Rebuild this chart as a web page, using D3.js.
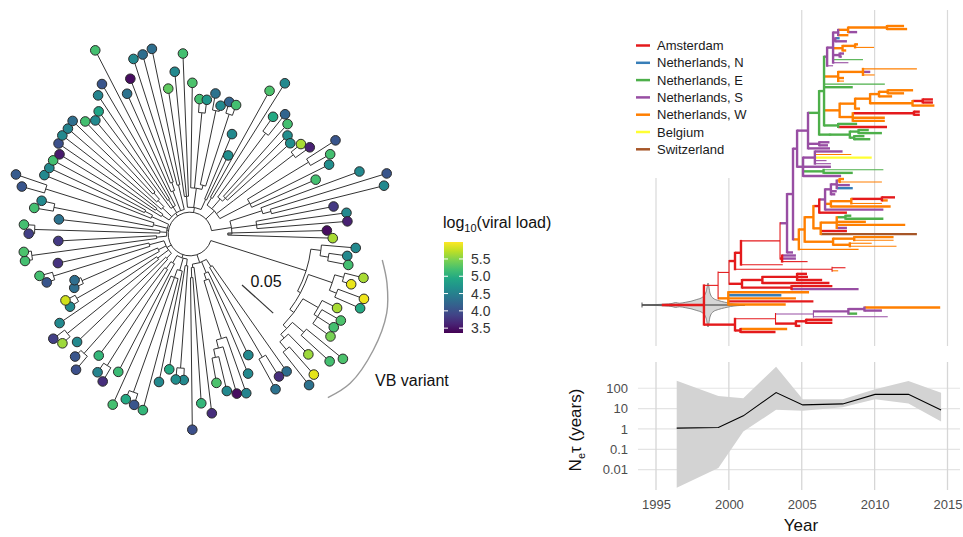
<!DOCTYPE html>
<html>
<head>
<meta charset="utf-8">
<script src="https://cdn.jsdelivr.net/npm/d3@7"></script>
<style>
  body { margin: 0; background: #fff; }
  svg { font-family: "Liberation Sans", Arial, sans-serif; }
</style>
</head>
<body>
<svg id="chart" width="963" height="537"></svg>
<script>
// ---- data: circular tree (divergence, subs/site) ----
var circNodes = [
  ["R", null, 0.026],
  ["vb", "R", 0.145], ["vbA", "vb", 0.157], ["vbA1", "vbA", 0.167], ["vbB", "vb", 0.149],
  ["vbB1", "vbB", 0.179], ["vbB1a", "vbB1", 0.190], ["vbB1b", "vbB1", 0.188], ["vbB2", "vbB", 0.155],
  ["vbB2a", "vbB2", 0.176], ["vbB2a1", "vbB2a", 0.181], ["vbB2b", "vbB2", 0.161], ["vbB2b1", "vbB2b", 0.179],
  ["vbB2b2", "vbB2b", 0.167], ["vbB2b3", "vbB2b2", 0.179],
  ["g1", "R", 0.036], ["g1a", "g1", 0.046], ["g1a1", "g1a", 0.170], ["g1b", "g1", 0.050], ["g1b1", "g1b", 0.058],
  ["g1c", "g1b1", 0.130], ["g1c1", "g1c", 0.140], ["g1c2", "g1c1", 0.150], ["g1d", "g1", 0.040], ["g1d1", "g1d", 0.052],
  ["g2", "R", 0.030], ["g2a", "g2", 0.038], ["g2a1", "g2a", 0.160], ["g2b", "g2", 0.045], ["g2b1", "g2b", 0.055],
  ["g2b2", "g2b1", 0.200], ["g2c", "g2", 0.040], ["g2c1", "g2c", 0.050], ["g2c2", "g2c1", 0.185],
  ["g3", "R", 0.032], ["g3a", "g3", 0.040], ["g3a1", "g3a", 0.190], ["g3b", "g3", 0.048], ["g3b1", "g3b", 0.188],
  ["g3c", "g3", 0.042], ["g3c1", "g3c", 0.155], ["g3c2", "g3c", 0.140], ["g3d", "g3", 0.050], ["g3d1", "g3d", 0.170],
  ["g4", "R", 0.028], ["g4a", "g4", 0.040], ["g4a1", "g4a", 0.190], ["g4b", "g4", 0.036], ["g4b1", "g4b", 0.185],
  ["g4c", "g4", 0.045], ["g4c1", "g4c", 0.165], ["g4c2", "g4c", 0.180], ["g4d", "g4", 0.050], ["g4d1", "g4d", 0.060],
  ["g5", "R", 0.030], ["g5a", "g5", 0.040], ["g5a1", "g5a", 0.050], ["g5b", "g5", 0.045], ["g5b1", "g5b", 0.055],
  ["g5b2", "g5b1", 0.065], ["g5c", "g5", 0.038], ["g5c1", "g5c", 0.048], ["g5d", "g5", 0.055], ["g5d1", "g5d", 0.065],
  ["g5e", "g5", 0.050], ["g5e1", "g5e", 0.060],
  ["g6", "R", 0.032], ["g6a", "g6", 0.045], ["g6b", "g6", 0.055], ["g6b1", "g6b", 0.145], ["g6b2", "g6b", 0.060],
  ["g6b3", "g6b2", 0.150], ["g6b4", "g6b2", 0.150], ["g6c", "g6", 0.045],
  ["g7", "R", 0.040], ["g7a", "g7", 0.050], ["g7b", "g7", 0.055], ["g7b1", "g7b", 0.150], ["g7b2", "g7b", 0.060],
  ["g7c", "g7", 0.065], ["g7c1", "g7c", 0.155], ["g7d", "g7", 0.080], ["g7d1", "g7d", 0.165],
  ["g8", "R", 0.050], ["g8a", "g8", 0.090], ["g8a1", "g8a", 0.100], ["g8b", "g8", 0.080], ["g8c", "g8", 0.045]
];

var circTipParent = [
  "vbA","vbA1","vbA1","vbB1a","vbB1a","vbB1b","vbB1b","vbB2a","vbB2a1","vbB2a1","vbB2a1","vbB2b1","vbB2b1","vbB2b2","vbB2b3","vbB2b3",
  "g1a","g1a1","g1a1","g1b","g1b1","g1c","g1c1","g1c2","g1c2","g1d","g1d1","g1d1",
  "g2a1","g2a1","g2a","g2b","g2b1","g2b2","g2b2","g2b1","g2c","g2c2","g2c2","g2c1",
  "g3a1","g3a1","g3a","g3b1","g3b1","g3b","g3c1","g3c1","g3c2","g3c2","g3d1","g3d1","g3d",
  "g4a1","g4a1","g4a","g4b1","g4b1","g4b","g4c1","g4c1","g4c2","g4c2","g4d","g4d1","g4d1",
  "g5a","g5a1","g5a1","g5b","g5b1","g5b2","g5b2","g5c","g5c1","g5c1","g5c","g5d","g5d1","g5d1","g5e1","g5e1",
  "g6a","g6a","g6a","g6b","g6b1","g6b1","g6b3","g6b3","g6b4","g6b4","g6c","g6c",
  "g7a","g7a","g7b1","g7b1","g7b2","g7b2","g7b2","g7c1","g7c1","g7d1","g7d1","g7d","g7d",
  "g8a","g8a1","g8a1","g8b","g8b","g8b","g8c","g8c"
];

var circTipDiv = [
  0.198,0.189,0.192,0.213,0.201,0.221,0.221,0.196,0.207,0.204,0.207,0.235,0.225,0.201,0.223,0.229,
  0.200,0.200,0.211,0.160,0.180,0.201,0.198,0.192,0.180,0.215,0.202,0.233,
  0.174,0.174,0.163,0.180,0.217,0.214,0.211,0.223,0.185,0.204,0.198,0.181,
  0.211,0.200,0.186,0.200,0.205,0.188,0.167,0.168,0.152,0.148,0.180,0.186,0.161,
  0.199,0.199,0.157,0.192,0.198,0.157,0.188,0.181,0.208,0.219,0.187,0.185,0.185,
  0.182,0.190,0.192,0.192,0.194,0.183,0.176,0.182,0.198,0.207,0.246,0.183,0.198,0.219,0.221,0.225,
  0.175,0.194,0.215,0.180,0.161,0.161,0.170,0.157,0.164,0.163,0.129,0.104,
  0.195,0.212,0.171,0.182,0.175,0.165,0.161,0.170,0.176,0.206,0.192,0.185,0.163,
  0.215,0.245,0.238,0.174,0.188,0.188,0.163,0.170
];

// log10 viral load per tip
var circTipLoad = [
  4.6,4.6,5.2,5.65,5.9,5.92,4.95,5.65,5.25,5.2,5.45,5.25,5.2,5.6,5.88,4.35,
  4.3,3.7,4.35,4.6,4.6,4.55,3.45,4.6,5.25,3.7,5.1,4.0,
  4.6,4.65,4.95,4.6,5.1,4.05,4.95,5.2,5.15,3.7,4.55,5.1,
  4.0,4.05,4.6,5.6,3.85,4.6,4.6,5.8,4.3,4.3,4.05,5.2,3.75,
  5.2,5.25,3.8,3.85,5.2,4.35,5.2,4.6,4.05,4.1,4.6,4.6,5.2,
  3.55,4.0,4.6,4.55,4.3,5.2,4.6,4.9,4.55,4.05,5.2,4.35,3.45,4.6,4.3,4.3,
  5.35,4.6,5.2,5.25,5.2,4.75,4.35,4.6,4.2,5.2,4.6,4.65,
  5.25,4.6,4.95,4.2,5.2,4.65,4.65,5.65,3.6,4.05,5.2,4.65,5.2,
  4.6,4.05,4.6,3.8,4.6,3.6,3.45,5.65
];
var loadTicks = [3.5, 4.0, 4.5, 5.0, 5.5];

// ---- data: time-scaled tree [id, parent, year, location] ----
var ttNodes = [
  ["R", null, 1998.29, "A"],
  ["A", "R", 1999.26, "A"],
  ["A1", "A", 2000.01, "A"],
  ["A2", "A1", 2000.42, "A"],
  ["A3", "A2", 2000.83, "A"],
  ["A4", "A3", 2003.51, "A"],
  ["S1", "A4", 2003.99, "S"],
  ["S2", "S1", 2004.40, "S"],
  ["P", "S2", 2004.68, "S"],
  ["P1", "P", 2005.43, "S"],
  ["E1", "P1", 2006.19, "E"],
  ["E2", "E1", 2006.53, "E"],
  ["S3", "E2", 2006.74, "S"],
  ["S4", "S3", 2007.15, "S"],
  ["S5", "S4", 2007.5, "S"],
  ["W1", "S5", 2008.18, "W"],
  ["W2", "W1", 2010.85, "W"],
  ["a1", "W2", 2012.02, "W"],
  ["a2", "W2", 2012.23, "W"],
  ["a3", "W1", 2008.8, "S"],
  ["a4", "S5", 2008.2, "W"],
  ["S6", "S4", 2007.3, "S"],
  ["a5", "S6", 2007.6, "N"],
  ["a6", "S6", 2008.1, "S"],
  ["W3", "S4", 2007.8, "W"],
  ["W4", "W3", 2008.66, "W"],
  ["a7", "W4", 2008.86, "W"],
  ["a8", "W4", 2009.96, "W"],
  ["a9", "W3", 2008.05, "W"],
  ["S7", "S4", 2007.6, "S"],
  ["a10", "S7", 2007.9, "S"],
  ["a11", "S7", 2007.75, "S"],
  ["a12", "S4", 2009.2, "E"],
  ["a13", "S4", 2008.2, "S"],
  ["a14", "S3", 2007.15, "S"],
  ["W5", "E2", 2007.5, "W"],
  ["W6", "W5", 2009.2, "W"],
  ["a15", "W6", 2012.9, "W"],
  ["a16", "W6", 2009.7, "S"],
  ["a17", "W6", 2010.0, "W"],
  ["a18", "W5", 2007.9, "W"],
  ["a19", "W5", 2007.9, "W"],
  ["a20", "E2", 2010.7, "E"],
  ["a21", "E2", 2008.5, "E"],
  ["W8", "E2", 2007.6, "W"],
  ["W9", "W8", 2008.66, "W"],
  ["W10", "W9", 2009.69, "W"],
  ["W11", "W10", 2010.3, "W"],
  ["W12", "W11", 2010.9, "W"],
  ["a22", "W12", 2012.64, "W"],
  ["a23", "W12", 2012.02, "W"],
  ["a24", "W11", 2011.2, "W"],
  ["W13", "W10", 2012.6, "W"],
  ["A14", "W13", 2013.3, "A"],
  ["a25", "A14", 2014.0, "A"],
  ["a26", "A14", 2014.0, "A"],
  ["a27", "W13", 2014.1, "W"],
  ["a28", "W9", 2009.0, "W"],
  ["W14", "W8", 2008.5, "W"],
  ["A15", "W14", 2012.7, "A"],
  ["a29", "A15", 2013.1, "A"],
  ["a30", "A15", 2013.1, "A"],
  ["a31", "W14", 2010.7, "W"],
  ["a32", "W14", 2010.7, "W"],
  ["E4", "E2", 2007.5, "E"],
  ["a33", "E4", 2008.8, "E"],
  ["a34", "E4", 2010.85, "A"],
  ["E5", "E1", 2006.94, "E"],
  ["E6", "E5", 2008.3, "E"],
  ["E7", "E6", 2008.9, "E"],
  ["a35", "E7", 2009.6, "E"],
  ["a36", "E7", 2010.5, "E"],
  ["E8", "E6", 2008.6, "E"],
  ["a37", "E8", 2009.3, "E"],
  ["a38", "E8", 2009.7, "E"],
  ["S9", "P1", 2006.2, "S"],
  ["a39", "S9", 2006.9, "S"],
  ["a40", "S9", 2006.8, "S"],
  ["a41", "P1", 2006.94, "S"],
  ["P2", "P", 2005.09, "S"],
  ["S10", "P2", 2005.9, "S"],
  ["a42", "S10", 2007.8, "S"],
  ["a43", "S10", 2008.4, "W"],
  ["a44", "S10", 2009.8, "B"],
  ["a45", "S10", 2006.7, "S"],
  ["a46", "S10", 2007.0, "S"],
  ["a47", "P2", 2007.0, "S"],
  ["E9", "P2", 2006.5, "E"],
  ["a48", "E9", 2010.6, "E"],
  ["a49", "E9", 2008.5, "E"],
  ["a50", "P2", 2007.7, "S"],
  ["O", "S2", 2004.8, "W"],
  ["O1", "O", 2005.2, "W"],
  ["O2", "O1", 2005.8, "W"],
  ["A20", "O2", 2006.2, "A"],
  ["Q", "A20", 2006.6, "S"],
  ["Q1", "Q", 2007.0, "S"],
  ["Q2", "Q1", 2007.4, "S"],
  ["W21", "Q2", 2007.6, "W"],
  ["a51", "W21", 2007.9, "W"],
  ["a52", "W21", 2010.5, "W"],
  ["a53", "Q2", 2008.3, "S"],
  ["a54", "Q2", 2008.5, "N"],
  ["a55", "Q1", 2007.4, "S"],
  ["a56", "Q1", 2007.3, "S"],
  ["W22", "Q", 2007.0, "W"],
  ["W23", "W22", 2008.4, "W"],
  ["A21", "W23", 2010.5, "A"],
  ["a57", "A21", 2011.4, "A"],
  ["a58", "A21", 2010.9, "W"],
  ["a59", "W23", 2010.5, "W"],
  ["a60", "W22", 2011.1, "W"],
  ["a61", "Q", 2010.6, "S"],
  ["a62", "A20", 2008.1, "A"],
  ["O3", "O2", 2006.3, "W"],
  ["W24", "O3", 2007.4, "W"],
  ["E20", "W24", 2008.0, "E"],
  ["a63", "E20", 2008.4, "E"],
  ["a64", "E20", 2010.6, "E"],
  ["a65", "W24", 2009.4, "W"],
  ["a66", "W24", 2012.1, "W"],
  ["a67", "W24", 2008.1, "S"],
  ["a68", "O3", 2008.1, "A"],
  ["a69", "O3", 2012.9, "C"],
  ["O4", "O1", 2007.15, "W"],
  ["W25", "O4", 2008.6, "W"],
  ["a70", "W25", 2011.3, "W"],
  ["a71", "W25", 2011.3, "W"],
  ["W26", "O4", 2008.3, "W"],
  ["a72", "W26", 2009.8, "W"],
  ["a73", "W26", 2011.5, "W"],
  ["a74", "O", 2008.9, "W"],
  ["a75", "S1", 2004.4, "S"],
  ["A22", "A4", 2003.65, "A"],
  ["a76", "A22", 2004.6, "S"],
  ["a77", "A22", 2004.6, "S"],
  ["a78", "A22", 2005.4, "A"],
  ["a79", "A3", 2003.7, "A"],
  ["A23", "A2", 2007.08, "A"],
  ["a80", "A23", 2008.0, "A"],
  ["a81", "A23", 2007.5, "W"],
  ["A5", "A1", 2000.9, "A"],
  ["A6", "A5", 2002.3, "A"],
  ["A7", "A6", 2004.68, "A"],
  ["a82", "A7", 2005.36, "A"],
  ["a83", "A7", 2005.43, "A"],
  ["a84", "A7", 2006.4, "A"],
  ["a85", "A6", 2006.9, "A"],
  ["A8", "A5", 2004.3, "A"],
  ["a86", "A8", 2007.1, "A"],
  ["a87", "A8", 2008.9, "S"],
  ["W30", "A", 1999.96, "W"],
  ["a88", "W30", 2005.5, "W"],
  ["a89", "W30", 2003.6, "N"],
  ["a90", "W30", 2004.6, "W"],
  ["a91", "W30", 2005.8, "A"],
  ["a92", "W30", 2003.9, "W"],
  ["B", "R", 2000.42, "A"],
  ["B1", "B", 2003.2, "A"],
  ["S30", "B1", 2005.8, "S"],
  ["S31", "S30", 2008.2, "S"],
  ["S32", "S31", 2009.3, "S"],
  ["a93", "S32", 2014.5, "W"],
  ["a94", "S32", 2010.5, "S"],
  ["a95", "S31", 2008.8, "E"],
  ["a96", "S30", 2010.9, "S"],
  ["A31", "B1", 2004.6, "A"],
  ["A32", "A31", 2005.3, "A"],
  ["a97", "A32", 2007.1, "A"],
  ["a98", "A32", 2007.1, "A"],
  ["a99", "A31", 2004.9, "A"],
  ["B2", "B", 2000.8, "A"],
  ["a100", "B2", 2004.0, "W"],
  ["a101", "B2", 2003.2, "A"]
];
// branches drawn with low support (thin)
var thinBranches = ["a8","a12","a13","a14","a15","a17","a19","a20","a43","a46","a48","a52","a59",
  "a71","a72","a73","a74","A4","a78","a79","A23","a80","a81","B1","S30","a96","A","A1","a45"];

var locNames = ["Amsterdam", "Netherlands, N", "Netherlands, E", "Netherlands, S", "Netherlands, W", "Belgium", "Switzerland"];
var locCodes = ["A", "N", "E", "S", "W", "B", "C"];

// root age posterior (relative density)
var rootAgeYears = [1994.04, 1995.0, 1995.6, 1996.1, 1996.35, 1996.6, 1997.0, 1997.4, 1997.8, 1998.2,
  1998.45, 1998.57, 1998.7, 1998.9, 1999.3, 1999.7, 2000.1, 2000.6, 2001.1];
var rootAgeDensity = [0.01, 0.02, 0.04, 0.07, 0.11, 0.08, 0.12, 0.17, 0.25, 0.36,
  0.62, 1.0, 0.55, 0.32, 0.2, 0.13, 0.07, 0.03, 0.005];

// ---- data: skyline ----
var skyYears = [1996.42, 1999.28, 2000.99, 2003.24, 2005.07, 2007.81, 2010.03, 2012.32, 2014.56];
var skyMedian = [1.1, 1.17, 4.4, 61, 15.2, 17, 50, 50, 8.6];
var skyUpper = [236, 42, 32, 1150, 29, 29, 89, 229, 60];
var skyLower = [0.0013, 0.012, 0.75, 8.7, 7.8, 11.7, 29, 18, 2.3];
var skyTicks = [0.01, 0.1, 1, 10, 100];
var yearTicks = [1995, 2000, 2005, 2010, 2015];

var svg = d3.select("#chart");
var locColor = d3.scaleOrdinal().domain(locCodes)
  .range(["#e41a1c", "#377eb8", "#4daf4a", "#984ea3", "#ff7f00", "#ffff33", "#a65628"]);

// =========== left: circular tree ===========
var cx = 190, cy = 234;
var rScale = d3.scaleLinear().domain([0, 0.05]).range([0, 42]);
var loadColor = d3.scaleSequential(d3.interpolateViridis).domain([3.36, 5.99]);

var rows = circNodes.map(d => ({id: d[0], parentId: d[1], div: d[2]}));
circTipParent.forEach(function(p, i) {
  rows.push({id: "t" + (i + 1), parentId: p, div: circTipDiv[i], load: circTipLoad[i], tip: i});
});
var croot = d3.stratify()(rows);
croot.eachAfter(n => { n.first = n.children ? d3.min(n.children, c => c.first) : n.data.tip; });
croot.sort((a, b) => a.first - b.first);
var cleaves = croot.leaves();
var angScale = d3.scaleLinear().domain([0, cleaves.length]).range([4.8, 364.8]);
cleaves.forEach((l, i) => { l.ang = angScale(i); });
croot.eachAfter(n => {
  if (n.children) n.ang = (n.children[0].ang + n.children[n.children.length - 1].ang) / 2;
});

function polar(r, a) {
  var t = a * Math.PI / 180;
  return [cx + r * Math.cos(t), cy + r * Math.sin(t)];
}

var gL = svg.append("g");
gL.selectAll(".radial")
  .data(croot.descendants().filter(n => n.parent))
  .join("line")
  .attr("class", "radial")
  .attr("x1", n => polar(rScale(n.parent.data.div), n.ang)[0])
  .attr("y1", n => polar(rScale(n.parent.data.div), n.ang)[1])
  .attr("x2", n => polar(rScale(n.data.div), n.ang)[0])
  .attr("y2", n => polar(rScale(n.data.div), n.ang)[1])
  .attr("stroke", "#333").attr("stroke-width", 1);

gL.selectAll(".arc")
  .data(croot.descendants().filter(n => n.children))
  .join("path")
  .attr("class", "arc")
  .attr("d", function(n) {
    var p = d3.path();
    var a0 = n.children[0].ang, a1 = n.children[n.children.length - 1].ang;
    p.arc(cx, cy, rScale(n.data.div), a0 * Math.PI / 180, a1 * Math.PI / 180);
    return p.toString();
  })
  .attr("fill", "none").attr("stroke", "#333").attr("stroke-width", 1);

gL.selectAll(".tip")
  .data(cleaves)
  .join("circle")
  .attr("class", "tip")
  .attr("cx", n => polar(rScale(n.data.div), n.ang)[0])
  .attr("cy", n => polar(rScale(n.data.div), n.ang)[1])
  .attr("r", 4.8)
  .attr("fill", n => loadColor(n.data.load))
  .attr("stroke", "#2a2a2a").attr("stroke-width", 1);

// scale bar
var barLen = rScale(0.05);
gL.append("line")
  .attr("x1", 242).attr("y1", 285)
  .attr("x2", 242 + barLen * Math.cos(42 * Math.PI / 180))
  .attr("y2", 285 + barLen * Math.sin(42 * Math.PI / 180))
  .attr("stroke", "#333").attr("stroke-width", 1.2);
gL.append("text").attr("x", 266).attr("y", 287).attr("text-anchor", "middle")
  .attr("font-size", 16).attr("fill", "#111").text("0.05");

// VB variant bracket
var vbPts = [[7.7, 194], [14, 203], [21.9, 212], [32.4, 217], [43, 219], [49.9, 214]];
gL.append("path")
  .attr("d", d3.line().curve(d3.curveCatmullRom)(vbPts.map(p => polar(p[1], p[0]))))
  .attr("fill", "none").attr("stroke", "#9a9a9a").attr("stroke-width", 1.4);
gL.append("text").attr("x", 375).attr("y", 386).attr("font-size", 16).attr("fill", "#111").text("VB variant");

// colour bar
var defs = svg.append("defs");
var grad = defs.append("linearGradient").attr("id", "vir").attr("x1", 0).attr("y1", 1).attr("x2", 0).attr("y2", 0);
d3.range(0, 1.0001, 0.1).forEach(function(t) {
  grad.append("stop").attr("offset", t).attr("stop-color", d3.interpolateViridis(t));
});
var barY = d3.scaleLinear().domain([3.36, 5.99]).range([333, 242]);
var gC = svg.append("g");
gC.append("rect").attr("x", 444).attr("y", barY(5.99)).attr("width", 19)
  .attr("height", barY(3.36) - barY(5.99)).attr("fill", "url(#vir)");
loadTicks.forEach(function(v) {
  gC.append("line").attr("x1", 444).attr("x2", 448).attr("y1", barY(v)).attr("y2", barY(v))
    .attr("stroke", "#fff").attr("stroke-width", 1);
  gC.append("line").attr("x1", 459).attr("x2", 463).attr("y1", barY(v)).attr("y2", barY(v))
    .attr("stroke", "#fff").attr("stroke-width", 1);
  gC.append("text").attr("x", 471).attr("y", barY(v) + 5).attr("font-size", 14).attr("fill", "#333")
    .text(d3.format(".1f")(v));
});
var ttl = gC.append("text").attr("x", 443).attr("y", 228).attr("font-size", 16).attr("fill", "#111");
ttl.append("tspan").text("log");
ttl.append("tspan").attr("font-size", 11).attr("dy", 4).text("10");
ttl.append("tspan").attr("dy", -4).text("(viral load)");

// =========== top right: time tree ===========
var xYear = d3.scaleLinear().domain([1995, 2015]).range([656, 947.5]);
var gT = svg.append("g");

yearTicks.forEach(function(y) {
  gT.append("line").attr("x1", xYear(y)).attr("x2", xYear(y)).attr("y1", 10).attr("y2", 346)
    .attr("stroke", "#d9d9d9").attr("stroke-width", 1.2);
});
// legend background hides the grid behind it
gT.append("rect").attr("x", 622).attr("y", 5).attr("width", 138).attr("height", 173).attr("fill", "#fff");

var troot = d3.stratify()(ttNodes.map(d => ({id: d[0], parentId: d[1], year: d[2], loc: d[3]})));
var tleaves = troot.leaves();
var yTip = d3.scaleLinear().domain([0, tleaves.length - 1]).range([26, 332]);
tleaves.forEach((l, i) => { l.py = yTip(i); });
troot.eachAfter(n => {
  if (n.children) n.py = (n.children[0].py + n.children[n.children.length - 1].py) / 2;
});
function bw(n) { return thinBranches.indexOf(n.id) >= 0 ? 1.1 : 2.4; }

// root age violin
var dens = d3.scaleLinear().domain([0, 1]).range([0, 22]);
var rootAge = rootAgeYears.map((y, i) => ({year: y, d: rootAgeDensity[i]}));
gT.append("path")
  .attr("d", d3.area().curve(d3.curveMonotoneX)
    .x(d => xYear(d.year)).y0(d => troot.py - dens(d.d)).y1(d => troot.py + dens(d.d))(rootAge))
  .attr("fill", "#d6d6d6").attr("stroke", "#6e6e6e").attr("stroke-width", 0.8);
gT.append("line").attr("x1", xYear(rootAgeYears[0])).attr("x2", xYear(rootAgeYears[rootAgeYears.length - 1]))
  .attr("y1", troot.py).attr("y2", troot.py).attr("stroke", "#333").attr("stroke-width", 1);
gT.append("line").attr("x1", xYear(rootAgeYears[0])).attr("x2", xYear(rootAgeYears[0]))
  .attr("y1", troot.py - 2.5).attr("y2", troot.py + 2.5).attr("stroke", "#555").attr("stroke-width", 1);
gT.append("line").attr("x1", xYear(1995.4)).attr("x2", xYear(troot.data.year))
  .attr("y1", troot.py).attr("y2", troot.py)
  .attr("stroke", locColor(troot.data.loc)).attr("stroke-width", 2.4);

gT.selectAll(".hbranch")
  .data(troot.descendants().filter(n => n.parent))
  .join("line")
  .attr("class", "hbranch")
  .attr("x1", n => xYear(n.parent.data.year)).attr("x2", n => xYear(n.data.year))
  .attr("y1", n => n.py).attr("y2", n => n.py)
  .attr("stroke", n => locColor(n.data.loc))
  .attr("stroke-width", bw);

gT.selectAll(".vbranch")
  .data(troot.descendants().filter(n => n.children))
  .join("line")
  .attr("class", "vbranch")
  .attr("x1", n => xYear(n.data.year)).attr("x2", n => xYear(n.data.year))
  .attr("y1", n => n.children[0].py - 1).attr("y2", n => n.children[n.children.length - 1].py + 1)
  .attr("stroke", n => locColor(n.data.loc))
  .attr("stroke-width", bw);

// legend
var gLeg = gT.append("g");
locNames.forEach(function(name, i) {
  var y = 45.5 + i * 17.3;
  gLeg.append("line").attr("x1", 636).attr("x2", 650).attr("y1", y).attr("y2", y)
    .attr("stroke", locColor(locCodes[i])).attr("stroke-width", 2.5);
  gLeg.append("text").attr("x", 657).attr("y", y + 4.5).attr("font-size", 13).attr("fill", "#1a1a1a").text(name);
});

// =========== bottom right: skyline ===========
var ySky = d3.scaleLog().domain([0.001, 1950]).range([490, 362]);
var gS = svg.append("g");
skyTicks.forEach(function(v) {
  gS.append("line").attr("x1", 638).attr("x2", 960).attr("y1", ySky(v)).attr("y2", ySky(v))
    .attr("stroke", "#e4e4e4").attr("stroke-width", 1.2);
});
yearTicks.forEach(function(y) {
  gS.append("line").attr("x1", xYear(y)).attr("x2", xYear(y)).attr("y1", 362).attr("y2", 490)
    .attr("stroke", "#d6d6d6").attr("stroke-width", 1.3);
});
var sky = skyYears.map((y, i) => ({year: y, med: skyMedian[i], lo: skyLower[i], hi: skyUpper[i]}));
gS.append("path")
  .attr("d", d3.area().x(d => xYear(d.year)).y0(d => ySky(d.lo)).y1(d => ySky(d.hi))(sky))
  .attr("fill", "#d3d3d3");
gS.append("path")
  .attr("d", d3.line().x(d => xYear(d.year)).y(d => ySky(d.med))(sky))
  .attr("fill", "none").attr("stroke", "#000").attr("stroke-width", 1.1);

var yAx = gS.append("g").attr("transform", "translate(628,0)")
  .call(d3.axisLeft(ySky).tickValues(skyTicks).tickFormat(d3.format("~g")).tickSize(0).tickPadding(0));
var xAx = gS.append("g").attr("transform", "translate(0,497)")
  .call(d3.axisBottom(xYear).tickValues(yearTicks).tickFormat(d3.format("d")).tickSize(0).tickPadding(3));
[yAx, xAx].forEach(function(a) {
  a.select(".domain").remove();
  a.selectAll("text").attr("font-size", 13).attr("fill", "#4d4d4d")
    .attr("font-family", '"Liberation Sans", Arial, sans-serif');
});

gS.append("text").attr("x", 801).attr("y", 531).attr("text-anchor", "middle")
  .attr("font-size", 17).attr("fill", "#111").text("Year");
var yt = gS.append("text").attr("transform", "translate(581,430) rotate(-90)")
  .attr("text-anchor", "middle").attr("font-size", 17).attr("fill", "#111");
yt.append("tspan").text("N");
yt.append("tspan").attr("font-size", 11).attr("dy", 4).text("e");
yt.append("tspan").attr("dy", -4).text("τ (years)");
</script>
</body>
</html>
